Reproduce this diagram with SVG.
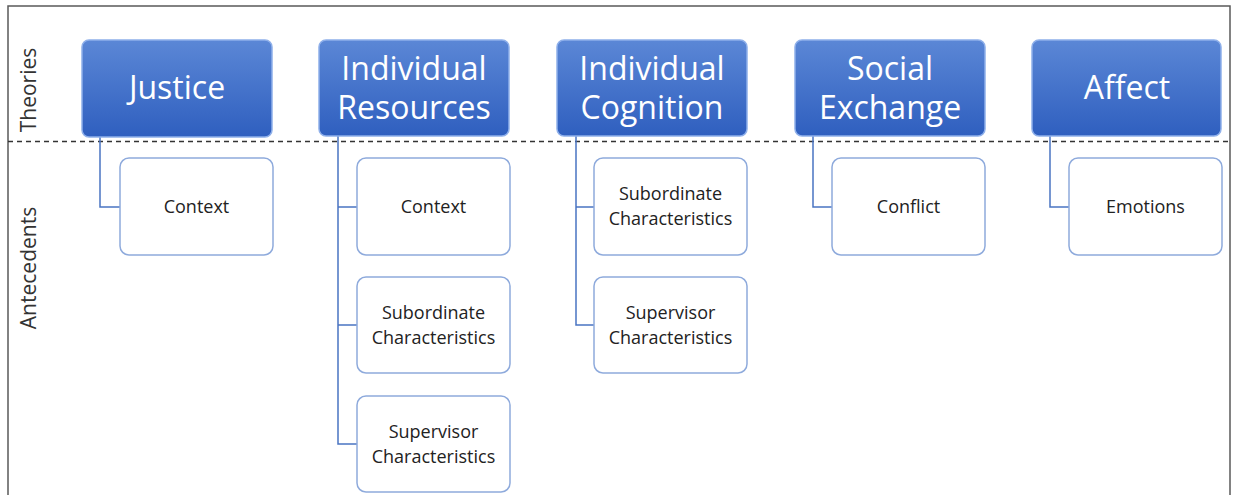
<svg xmlns="http://www.w3.org/2000/svg" width="1233" height="495" viewBox="0 0 1233 495">
  <defs>
    <linearGradient id="theoryFill" x1="0" y1="0" x2="0" y2="1">
      <stop offset="0" stop-color="#5b87d6"/>
      <stop offset="1" stop-color="#2f5fbf"/>
    </linearGradient>
    <style>
      .frame { fill: #ffffff; stroke: #5a5a5a; stroke-width: 1.5; }
      .divider { stroke: #333333; stroke-width: 1.3; stroke-dasharray: 5 4; fill: none; }
      .axis { font-family: "Open Sans", "Liberation Sans", sans-serif; font-size: 21px; fill: #333333; text-anchor: middle; }
      .theory rect { fill: url(#theoryFill); stroke: #8fb0ea; stroke-width: 1.5; }
      .theory text { font-family: "Open Sans", "Liberation Sans", sans-serif; font-size: 32px; fill: #ffffff; text-anchor: middle; }
      .item rect { fill: #ffffff; stroke: #8eaadc; stroke-width: 1.5; }
      .item text { font-family: "Open Sans", "Liberation Sans", sans-serif; font-size: 18px; fill: #222222; text-anchor: middle; }
      .links path { fill: none; stroke: #4a74c2; stroke-width: 1.5; }
    </style>
  </defs>

  <rect class="frame" x="8" y="6" width="1222" height="500"/>
  <line class="divider" x1="8" y1="141.5" x2="1230" y2="141.5"/>

  <text class="axis" transform="translate(36 90) rotate(-90)">Theories</text>
  <text class="axis" transform="translate(36 268) rotate(-90)">Antecedents</text>

  <!-- connectors from each theory down to its antecedents -->
  <g class="links">
    <path d="M100 137 V207 H120"/>
    <path d="M338 136 V444 H357 M338 207 H357 M338 325 H357"/>
    <path d="M576 136 V325 H594 M576 207 H594"/>
    <path d="M813 136 V207 H832"/>
    <path d="M1050 136 V207 H1069"/>
  </g>

  <!-- theories -->
  <g id="theory-justice" class="theory">
    <rect x="82" y="40" width="190" height="97" rx="7"/>
    <text x="177" y="99">Justice</text>
  </g>
  <g id="theory-individual-resources" class="theory">
    <rect x="319" y="40" width="190" height="96" rx="7"/>
    <text x="414" y="80">Individual</text>
    <text x="414" y="119">Resources</text>
  </g>
  <g id="theory-individual-cognition" class="theory">
    <rect x="557" y="40" width="190" height="96" rx="7"/>
    <text x="652" y="80">Individual</text>
    <text x="652" y="119">Cognition</text>
  </g>
  <g id="theory-social-exchange" class="theory">
    <rect x="795" y="40" width="190" height="96" rx="7"/>
    <text x="890" y="80">Social</text>
    <text x="890" y="119">Exchange</text>
  </g>
  <g id="theory-affect" class="theory">
    <rect x="1032" y="40" width="189" height="96" rx="7"/>
    <text x="1127" y="99">Affect</text>
  </g>

  <!-- antecedents -->
  <g id="justice-context" class="item">
    <rect x="120" y="158" width="153" height="97" rx="9"/>
    <text x="196.5" y="213">Context</text>
  </g>
  <g id="resources-context" class="item">
    <rect x="357" y="158" width="153" height="97" rx="9"/>
    <text x="433.5" y="213">Context</text>
  </g>
  <g id="resources-subordinate" class="item">
    <rect x="357" y="277" width="153" height="96" rx="9"/>
    <text x="433.5" y="319">Subordinate</text>
    <text x="433.5" y="344">Characteristics</text>
  </g>
  <g id="resources-supervisor" class="item">
    <rect x="357" y="396" width="153" height="96" rx="9"/>
    <text x="433.5" y="438">Supervisor</text>
    <text x="433.5" y="463">Characteristics</text>
  </g>
  <g id="cognition-subordinate" class="item">
    <rect x="594" y="158" width="153" height="97" rx="9"/>
    <text x="670.5" y="200">Subordinate</text>
    <text x="670.5" y="225">Characteristics</text>
  </g>
  <g id="cognition-supervisor" class="item">
    <rect x="594" y="277" width="153" height="96" rx="9"/>
    <text x="670.5" y="319">Supervisor</text>
    <text x="670.5" y="344">Characteristics</text>
  </g>
  <g id="exchange-conflict" class="item">
    <rect x="832" y="158" width="153" height="97" rx="9"/>
    <text x="908.5" y="213">Conflict</text>
  </g>
  <g id="affect-emotions" class="item">
    <rect x="1069" y="158" width="153" height="97" rx="9"/>
    <text x="1145.5" y="213">Emotions</text>
  </g>
</svg>
